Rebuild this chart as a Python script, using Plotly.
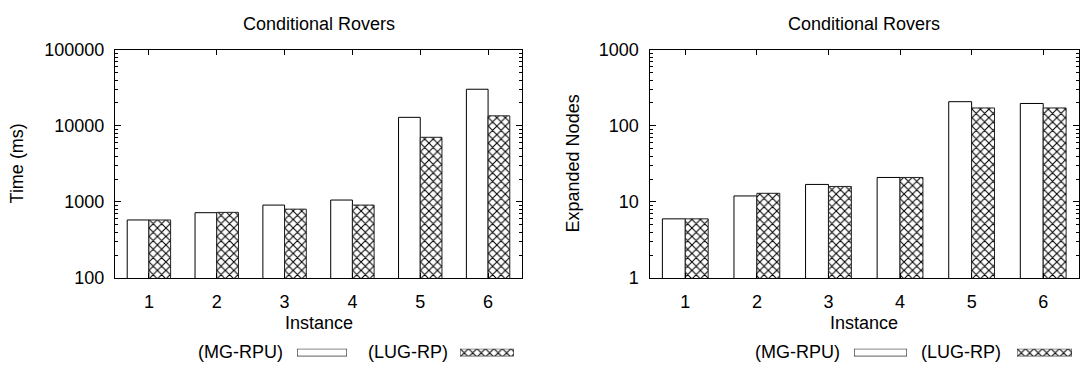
import plotly.graph_objects as go

# Instances of the Conditional Rovers domain
instances = [1, 2, 3, 4, 5, 6]

# Planning time (ms) per planner
time_mg_rpu = [580, 723, 910, 1060, 12950, 30300]
time_lug_rp = [580, 730, 805, 910, 7080, 13550]

# Expanded search nodes per planner
nodes_mg_rpu = [6, 12, 17, 21, 208, 197]
nodes_lug_rp = [6, 13, 16, 21, 172, 172]

# Decade tick labels for both log axes
time_ticks = [100, 1000, 10000, 100000]
time_tick_text = ["100", "1000", "10000", "100000"]
node_ticks = [1, 10, 100, 1000]
node_tick_text = ["1", "10", "100", "1000"]

series_names = ["(MG-RPU)", "(LUG-RP)"]
chart_title = "Conditional Rovers"

FONT = "Liberation Sans, Arial, Helvetica, sans-serif"
W, H = 1080, 379


def px_x(x):
    return x / W


def px_y(y):
    return 1 - y / H


def minor_log_values(decades):
    return [m * d for d in decades[:-1] for m in range(2, 10)]


hatch = dict(shape="x", size=6, solidity=0.32, fgcolor="black", bgcolor="white", fillmode="replace")
plain_marker = dict(color="white", line=dict(color="black", width=1))
hatch_marker = dict(color="white", pattern=hatch, line=dict(color="#222", width=1))

fig = go.Figure()

# Left panel: time
fig.add_trace(go.Bar(x=instances, y=time_mg_rpu, name=series_names[0], marker=plain_marker,
                     xaxis="x", yaxis="y", showlegend=False))
fig.add_trace(go.Bar(x=instances, y=time_lug_rp, name=series_names[1], marker=hatch_marker,
                     xaxis="x", yaxis="y", showlegend=False))
# Right panel: expanded nodes
fig.add_trace(go.Bar(x=instances, y=nodes_mg_rpu, name=series_names[0], marker=plain_marker,
                     xaxis="x2", yaxis="y2", showlegend=False))
fig.add_trace(go.Bar(x=instances, y=nodes_lug_rp, name=series_names[1], marker=hatch_marker,
                     xaxis="x2", yaxis="y2", showlegend=False))

# Key swatches drawn as tiny bars in their own axes
key_axes = []
key_specs = [
    ((297, 347), (460, 514)),
    ((854, 907), (1017, 1072)),
]
ky0, ky1 = 357.5, 365.7
ax_id = 3
for panel in key_specs:
    for j, (x0, x1) in enumerate(panel):
        xa, ya = f"x{ax_id}", f"y{ax_id}"
        fig.add_trace(go.Bar(x=[0], y=[1], width=[1], base=[0],
                             marker=plain_marker if j == 0 else hatch_marker,
                             xaxis=xa, yaxis=ya, showlegend=False, hoverinfo="skip"))
        key_axes.append((ax_id, (px_x(x0), px_x(x1)), (px_y(ky1), px_y(ky0))))
        ax_id += 1

axis_common = dict(
    showline=True, linecolor="black", linewidth=1.2, mirror="ticks",
    ticks="inside", tickcolor="black", showgrid=False, zeroline=False,
    tickfont=dict(family=FONT, size=18, color="black"),
)

left_dom = (px_x(115), px_x(522))
right_dom = (px_x(649.5), px_x(1079))
y_dom = (px_y(283), px_y(42))

layout = dict(
    width=W, height=H,
    margin=dict(l=0, r=0, t=0, b=0),
    paper_bgcolor="white", plot_bgcolor="white",
    barmode="group", bargap=0.36, bargroupgap=0,
    font=dict(family=FONT, size=18, color="black"),
    xaxis=dict(domain=left_dom, range=[0.5, 6.5], tickvals=instances, ticklen=5,
               anchor="y", ticklabelstandoff=7, **axis_common),
    yaxis=dict(domain=y_dom, type="log", range=[2, 5], tickvals=time_ticks, ticktext=time_tick_text,
               ticklen=6, anchor="x", ticklabelstandoff=6,
               minor=dict(ticks="inside", ticklen=3, tickcolor="black", showgrid=False,
                          tickvals=minor_log_values(time_ticks)),
               **axis_common),
    xaxis2=dict(domain=right_dom, range=[0.5, 6.5], tickvals=instances, ticklen=5,
                anchor="y2", ticklabelstandoff=7, **axis_common),
    yaxis2=dict(domain=y_dom, type="log", range=[0, 3], tickvals=node_ticks, ticktext=node_tick_text,
                ticklen=6, anchor="x2", ticklabelstandoff=6,
                minor=dict(ticks="inside", ticklen=3, tickcolor="black", showgrid=False,
                           tickvals=minor_log_values(node_ticks)),
                **axis_common),
)

for i, xd, yd in key_axes:
    layout[f"xaxis{i}"] = dict(domain=xd, range=[-0.5, 0.5], visible=False, fixedrange=True,
                               anchor=f"y{i}")
    layout[f"yaxis{i}"] = dict(domain=yd, range=[-0.02, 1.02], visible=False, fixedrange=True,
                               anchor=f"x{i}")

fig.update_layout(**layout)

anns = []
for cx, ylabel, lx in [((115 + 522) / 2, "Time (ms)", 17), ((649.5 + 1079) / 2, "Expanded Nodes", 573)]:
    anns.append(dict(text=chart_title, x=px_x(cx), y=px_y(15), xref="paper", yref="paper",
                     xanchor="center", yanchor="middle", showarrow=False,
                     font=dict(family=FONT, size=18)))
    anns.append(dict(text="Instance", x=px_x(cx), y=px_y(330), xref="paper", yref="paper",
                     xanchor="center", yanchor="middle", showarrow=False,
                     font=dict(family=FONT, size=18)))
    anns.append(dict(text=ylabel, x=px_x(lx), y=px_y(162), xref="paper", yref="paper",
                     xanchor="center", yanchor="middle", showarrow=False, textangle=-90,
                     font=dict(family=FONT, size=18)))

# Key labels placed to the left of their swatches
for text_right, name in [(285, series_names[0]), (450, series_names[1]),
                         (842, series_names[0]), (1003, series_names[1])]:
    anns.append(dict(text=name, x=px_x(text_right), y=px_y(361.5), xref="paper", yref="paper",
                     xanchor="right", yanchor="middle", showarrow=False,
                     font=dict(family=FONT, size=18)))

fig.update_layout(annotations=anns)

fig.write_html("out.html")
